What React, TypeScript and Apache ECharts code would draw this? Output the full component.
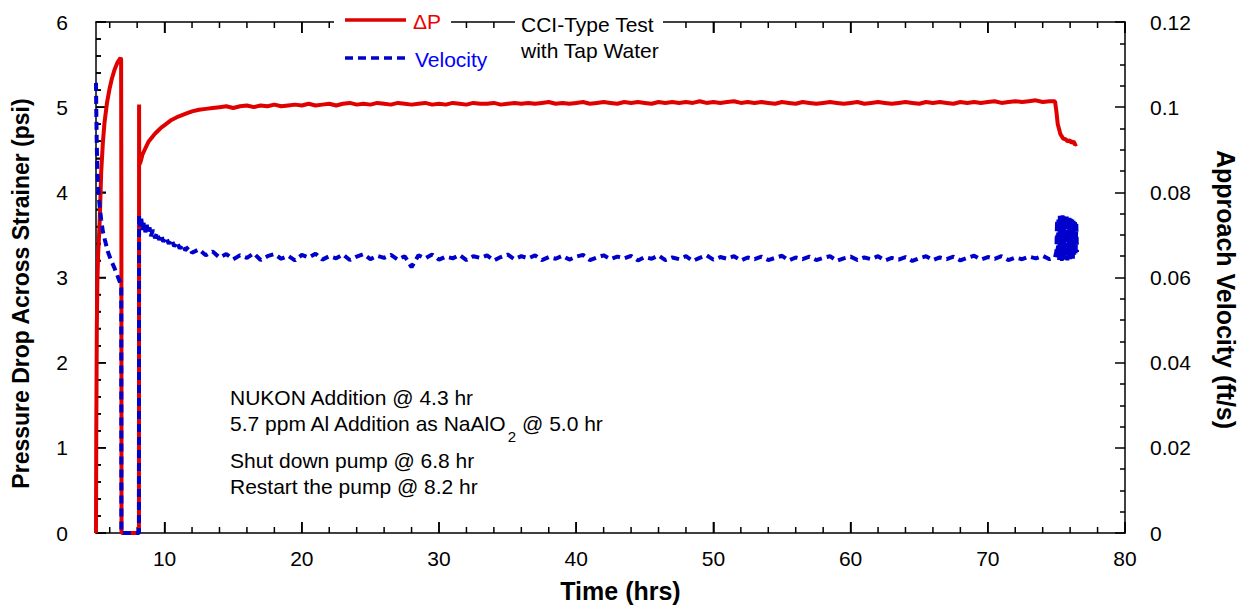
import React, { useEffect, useRef } from 'react';
import * as echarts from 'echarts';

const FONT = '"Liberation Sans", Arial, sans-serif';
const RED = '#e00000';
const BLUE = '#0000cc';

// Pressure drop (psi) vs time (hrs)
const dpHours = [
  5.0, 5.02, 5.06, 5.1, 5.15, 5.26, 5.38, 5.5, 5.62, 5.8, 5.98, 6.15, 6.35, 6.55, 6.79, 6.83, 6.85, 6.86,
  7.5, 8.13, 8.14, 8.15, 8.25, 8.4, 8.55, 8.7, 8.85, 9.0, 9.25, 9.5, 9.75, 10.0, 10.5, 11.0, 11.5, 12.0,
  12.5, 13.0, 13.5, 14.0,
  14.5, 15, 15.5, 16, 16.5, 17, 17.5, 18, 18.5, 19, 19.5, 20, 20.5, 21, 21.5, 22, 22.5, 23, 23.5, 24,
  24.5, 25, 25.5, 26, 26.5, 27, 27.5, 28, 28.5, 29, 29.5, 30, 30.5, 31, 31.5, 32, 32.5, 33, 33.5, 34,
  34.5, 35, 35.5, 36, 36.5, 37, 37.5, 38, 38.5, 39, 39.5, 40, 40.5, 41, 41.5, 42, 42.5, 43, 43.5, 44,
  44.5, 45, 45.5, 46, 46.5, 47, 47.5, 48, 48.5, 49, 49.5, 50, 50.5, 51, 51.5, 52, 52.5, 53, 53.5, 54,
  54.5, 55, 55.5, 56, 56.5, 57, 57.5, 58, 58.5, 59, 59.5, 60, 60.5, 61, 61.5, 62, 62.5, 63, 63.5, 64,
  64.5, 65, 65.5, 66, 66.5, 67, 67.5, 68, 68.5, 69, 69.5, 70, 70.5, 71, 71.5, 72, 72.5, 73, 73.5, 74,
  74.5, 74.9, 75.0, 75.1, 75.3, 75.5, 75.7, 75.8, 76.0, 76.1, 76.25, 76.35, 76.5,
];
const dpPsi = [
  0, 1.2, 2.4, 2.95, 3.25, 3.62, 4.24, 4.58, 4.82, 5.05, 5.21, 5.33, 5.44, 5.52, 5.58, 5.56, 3.85, 0,
  0, 0, 5.03, 4.32, 4.36, 4.45, 4.5, 4.55, 4.6, 4.63, 4.68, 4.72, 4.76, 4.79, 4.85, 4.89, 4.92, 4.95,
  4.97, 4.98, 4.99, 5.0,
  5.01, 4.99, 5.01, 5.02, 5.0, 5.02, 5.01, 5.03, 5.01, 5.02, 5.03, 5.02, 5.04, 5.02, 5.03, 5.04, 5.02, 5.04, 5.05, 5.03,
  5.04, 5.03, 5.05, 5.04, 5.03, 5.05, 5.04, 5.03, 5.04, 5.05, 5.03, 5.04, 5.03, 5.05, 5.04, 5.03, 5.05, 5.04, 5.04, 5.05,
  5.03, 5.04, 5.05, 5.04, 5.05, 5.04, 5.05, 5.06, 5.04, 5.05, 5.04, 5.05, 5.06, 5.04, 5.05, 5.06, 5.05, 5.04, 5.06, 5.05,
  5.06, 5.05, 5.04, 5.06, 5.05, 5.06, 5.05, 5.06, 5.05, 5.07, 5.05, 5.06, 5.05, 5.06, 5.07, 5.05, 5.06, 5.05, 5.06, 5.05,
  5.04, 5.06, 5.05, 5.04, 5.06, 5.05, 5.04, 5.05, 5.06, 5.05, 5.04, 5.05, 5.06, 5.04, 5.05, 5.06, 5.05, 5.04, 5.05, 5.06,
  5.05, 5.04, 5.06, 5.05, 5.06, 5.05, 5.04, 5.06, 5.05, 5.06, 5.05, 5.06, 5.07, 5.05, 5.06, 5.07, 5.06, 5.07, 5.08, 5.06,
  5.07, 5.07, 4.95, 4.8, 4.68, 4.63, 4.62, 4.6, 4.61, 4.58, 4.6, 4.56, 4.57,
];

// Approach velocity (ft/s) vs time (hrs)
const velHours = [
  5.0, 5.02, 5.05, 5.1, 5.18, 5.26, 5.38, 5.5, 5.65, 5.86, 6.1, 6.35, 6.55, 6.71, 6.8, 6.84, 6.85,
  8.13, 8.14, 8.2, 8.3, 8.4, 8.5, 8.6, 8.7, 8.8, 8.9, 9.0, 9.15, 9.3, 9.45, 9.6, 9.75, 9.9, 10.1, 10.3,
  10.5, 10.7, 10.9, 11.1, 11.3, 11.5, 11.75, 12.0, 12.5, 13.0, 13.5, 14.0,
  14.5, 15, 15.5, 16, 16.5, 17, 17.5, 18, 18.5, 19, 19.5, 20, 20.5, 21, 21.5, 22, 22.5, 23, 23.5, 24,
  24.5, 25, 25.5, 26, 26.5, 27, 27.5, 28, 28.5, 29, 29.5, 30, 30.5, 31, 31.5, 32, 32.5, 33, 33.5, 34,
  34.5, 35, 35.5, 36, 36.5, 37, 37.5, 38, 38.5, 39, 39.5, 40, 40.5, 41, 41.5, 42, 42.5, 43, 43.5, 44,
  44.5, 45, 45.5, 46, 46.5, 47, 47.5, 48, 48.5, 49, 49.5, 50, 50.5, 51, 51.5, 52, 52.5, 53, 53.5, 54,
  54.5, 55, 55.5, 56, 56.5, 57, 57.5, 58, 58.5, 59, 59.5, 60, 60.5, 61, 61.5, 62, 62.5, 63, 63.5, 64,
  64.5, 65, 65.5, 66, 66.5, 67, 67.5, 68, 68.5, 69, 69.5, 70, 70.5, 71, 71.5, 72, 72.5, 73, 73.5, 74,
  74.5, 74.9, 75.0, 75.05, 75.1, 75.15, 75.2, 75.25, 75.3, 75.35, 75.4, 75.45, 75.5, 75.55, 75.6, 75.65,
  75.7, 75.75, 75.8, 75.85, 75.9, 75.95, 76.0, 76.05, 76.1, 76.15, 76.2, 76.25, 76.3, 76.35, 76.4, 76.45, 76.5,
];
const velFtS = [
  0.1057, 0.0995, 0.0925, 0.0848, 0.08, 0.077, 0.0735, 0.0708, 0.0688, 0.0661, 0.064, 0.0622, 0.0605, 0.0592, 0.0583, 0.0575, 0,
  0, 0.0747, 0.072, 0.0738, 0.0712, 0.0731, 0.0706, 0.0724, 0.0702, 0.0718, 0.0697, 0.0712, 0.0692, 0.0706, 0.0688, 0.0701, 0.0684, 0.0695, 0.0679,
  0.069, 0.0673, 0.0684, 0.0668, 0.0678, 0.0664, 0.0672, 0.0658, 0.0666, 0.0652, 0.0661, 0.0647,
  0.0655, 0.0643, 0.0652, 0.0646, 0.0657, 0.0641, 0.065, 0.0655, 0.0644, 0.0651, 0.064, 0.0653, 0.0647, 0.0656, 0.0642, 0.065, 0.0645, 0.0654, 0.0641, 0.0649,
  0.0655, 0.0643, 0.0651, 0.0646, 0.0653, 0.0642, 0.065, 0.0624, 0.0652, 0.0645, 0.0654, 0.0642, 0.0649, 0.0645, 0.0653, 0.0641, 0.065, 0.0646, 0.0652, 0.064,
  0.0648, 0.0654, 0.0643, 0.065, 0.0645, 0.0652, 0.0641, 0.0648, 0.0644, 0.0651, 0.0642, 0.0649, 0.0653, 0.0641, 0.0647, 0.0652, 0.0643, 0.0649, 0.0645, 0.0651,
  0.064, 0.0648, 0.0644, 0.0652, 0.0641, 0.0647, 0.0643, 0.065, 0.0639, 0.0646, 0.0652, 0.0642, 0.0648, 0.0644, 0.065, 0.064, 0.0647, 0.0643, 0.0649, 0.0641,
  0.0646, 0.0651, 0.064, 0.0647, 0.0643, 0.0649, 0.0641, 0.0646, 0.065, 0.0639, 0.0645, 0.0649, 0.0641, 0.0647, 0.0643, 0.065, 0.064, 0.0646, 0.0642, 0.0648,
  0.0639, 0.0645, 0.065, 0.0641, 0.0647, 0.0643, 0.0649, 0.064, 0.0646, 0.0651, 0.0642, 0.0648, 0.0644, 0.065, 0.0641, 0.0647, 0.0643, 0.0649, 0.0645, 0.0651,
  0.0643, 0.0647, 0.0662, 0.0735, 0.0648, 0.0742, 0.0641, 0.0745, 0.065, 0.0743, 0.0639, 0.0746, 0.0645, 0.0744, 0.0642, 0.0741,
  0.0648, 0.0745, 0.064, 0.0743, 0.0646, 0.074, 0.0643, 0.0738, 0.0649, 0.0736, 0.0644, 0.0733, 0.0652, 0.073, 0.0655, 0.0726, 0.066,
];

// Axis ranges and tick values
const timeRange = [5, 80];
const psiRange = [0, 6];
const velRange = [0, 0.12];
const xMajorTicks = [10, 20, 30, 40, 50, 60, 70, 80];
const xMinorTicks = [
  6, 8, 12, 14, 16, 18, 22, 24, 26, 28, 32, 34, 36, 38, 42, 44, 46, 48,
  52, 54, 56, 58, 62, 64, 66, 68, 72, 74, 76, 78,
];
const psiMajorTicks = [0, 1, 2, 3, 4, 5, 6];
const psiMinorTicks = [
  0.2, 0.4, 0.6, 0.8, 1.2, 1.4, 1.6, 1.8, 2.2, 2.4, 2.6, 2.8, 3.2, 3.4, 3.6, 3.8,
  4.2, 4.4, 4.6, 4.8, 5.2, 5.4, 5.6, 5.8,
];

const legendNames = ['ΔP', 'Velocity'];
const titleLines = ['CCI-Type Test', 'with Tap Water'];
const noteLine1 = 'NUKON Addition @ 4.3 hr';
const noteLine2 = '5.7 ppm Al Addition as NaAlO{sub|2} @ 5.0 hr';
const noteLine3 = 'Shut down pump @ 6.8 hr';
const noteLine4 = 'Restart the pump @ 8.2 hr';

const CHART_W = 1247;
const CHART_H = 608;
const GRID = { left: 96, right: 122, top: 22, bottom: 71 };
const MAJOR_LEN = 11;
const MINOR_LEN = 6;

function blackLine() {
  return { color: '#000000', width: 1.5 };
}
function tick(len: number, custom?: number[]) {
  const t: any = { show: true, inside: true, length: len, lineStyle: blackLine() };
  if (custom) t.customValues = custom;
  return t;
}

// Tick marks as short segments in data units (pixel lengths converted through the grid size)
function buildTickSegments() {
  const gridW = CHART_W - GRID.left - GRID.right;
  const gridH = CHART_H - GRID.top - GRID.bottom;
  const psiPerPx = (psiRange[1] - psiRange[0]) / gridH;
  const hrsPerPx = (timeRange[1] - timeRange[0]) / gridW;
  const out: any[] = [];
  const brk = ['-', '-'];
  const xSeg = (v: number, len: number) => {
    out.push([v, psiRange[0]], [v, psiRange[0] + len * psiPerPx], brk);
    out.push([v, psiRange[1]], [v, psiRange[1] - len * psiPerPx], brk);
  };
  const ySeg = (v: number, len: number) => {
    out.push([timeRange[0], v], [timeRange[0] + len * hrsPerPx, v], brk);
  };
  xMajorTicks.forEach((v) => xSeg(v, MAJOR_LEN));
  xMinorTicks.forEach((v) => xSeg(v, MINOR_LEN));
  psiMajorTicks.forEach((v) => ySeg(v, MAJOR_LEN - 1));
  psiMinorTicks.forEach((v) => ySeg(v, MINOR_LEN - 1));
  return out;
}

export default function App() {
  const ref = useRef<HTMLDivElement>(null);
  useEffect(() => {
    if (!ref.current) return;
    const chart = echarts.init(ref.current, undefined, { renderer: 'svg' });
    const axisLine = () => ({ show: true, onZero: false, lineStyle: blackLine() });
    const textFont = `21px ${FONT}`;
    const xBase = () => ({ type: 'value', min: timeRange[0], max: timeRange[1], splitLine: { show: false } });

    chart.setOption({
      animation: false,
      grid: { ...GRID },
      xAxis: [
        {
          ...xBase(),
          position: 'bottom',
          axisLine: axisLine(),
          axisTick: tick(MAJOR_LEN, xMajorTicks),
          axisLabel: { customValues: xMajorTicks, fontSize: 21, color: '#000', fontFamily: FONT, margin: 15 },
          name: 'Time (hrs)',
          nameLocation: 'middle',
          nameGap: 45,
          nameTextStyle: { fontSize: 25, fontWeight: 'bold', color: '#000', fontFamily: FONT, padding: [0, 0, 0, 20] },
        },
        {
          ...xBase(),
          position: 'top',
          axisLine: axisLine(),
          axisTick: tick(MAJOR_LEN, xMajorTicks),
          axisLabel: { show: false },
        },
      ],
      yAxis: [
        {
          type: 'value',
          position: 'left',
          min: psiRange[0],
          max: psiRange[1],
          interval: 1,
          axisLine: axisLine(),
          axisTick: tick(MAJOR_LEN - 1),
          minorTick: { show: true, splitNumber: 5, length: MINOR_LEN - 1, lineStyle: blackLine() },
          axisLabel: { fontSize: 21, color: '#000', fontFamily: FONT, margin: 28 },
          splitLine: { show: false },
          minorSplitLine: { show: false },
          name: 'Pressure Drop Across Strainer (psi)',
          nameLocation: 'middle',
          nameGap: 64,
          nameRotate: 90,
          nameTextStyle: { fontSize: 23, fontWeight: 'bold', color: '#000', fontFamily: FONT, padding: [0, 32, 0, 0] },
        },
        {
          type: 'value',
          position: 'right',
          min: velRange[0],
          max: velRange[1],
          interval: 0.02,
          axisLine: axisLine(),
          axisTick: tick(MAJOR_LEN - 1),
          minorTick: { show: true, splitNumber: 4, length: MINOR_LEN - 1, lineStyle: blackLine() },
          axisLabel: { fontSize: 21, color: '#000', fontFamily: FONT, margin: 25 },
          splitLine: { show: false },
          minorSplitLine: { show: false },
          name: 'Approach Velocity (ft/s)',
          nameLocation: 'middle',
          nameGap: 88,
          nameRotate: -90,
          nameTextStyle: { fontSize: 25, fontWeight: 'bold', color: '#000', fontFamily: FONT, padding: [0, 0, 0, 24] },
        },
      ],
      series: [
        {
          name: 'axis ticks',
          type: 'line',
          xAxisIndex: 0,
          yAxisIndex: 0,
          data: buildTickSegments(),
          symbol: 'none',
          showSymbol: false,
          connectNulls: false,
          clip: false,
          silent: true,
          lineStyle: { color: '#000000', width: 1.5 },
          itemStyle: { color: '#000000' },
        },
        {
          name: legendNames[0],
          type: 'line',
          xAxisIndex: 0,
          yAxisIndex: 0,
          data: dpHours.map((t, i) => [t, dpPsi[i]]),
          symbol: 'none',
          lineStyle: { color: RED, width: 4 },
          itemStyle: { color: RED },
        },
        {
          name: legendNames[1],
          type: 'line',
          xAxisIndex: 0,
          yAxisIndex: 1,
          data: velHours.map((t, i) => [t, velFtS[i]]),
          symbol: 'none',
          lineStyle: { color: BLUE, width: 4, type: [8, 5] },
          itemStyle: { color: BLUE },
        },
      ],
      graphic: [
        { type: 'rect', z: 8, shape: { x: 334, y: 12, width: 117, height: 24 }, style: { fill: '#fff' } },
        { type: 'rect', z: 8, shape: { x: 515, y: 12, width: 148, height: 24 }, style: { fill: '#fff' } },
        { type: 'line', z: 9, shape: { x1: 345, y1: 20, x2: 406, y2: 20 }, style: { stroke: RED, lineWidth: 3.5 } },
        { type: 'text', z: 9, x: 413, y: 21, style: { text: legendNames[0], font: textFont, fill: '#ee0000', verticalAlign: 'middle' } },
        { type: 'line', z: 9, shape: { x1: 345, y1: 58, x2: 408, y2: 58 }, style: { stroke: BLUE, lineWidth: 3.5, lineDash: [8, 5] } },
        { type: 'text', z: 9, x: 415, y: 59, style: { text: legendNames[1], font: textFont, fill: '#0000ff', verticalAlign: 'middle' } },
        { type: 'text', z: 9, x: 521, y: 24, style: { text: titleLines[0], font: textFont, fill: '#000', verticalAlign: 'middle' } },
        { type: 'text', z: 9, x: 521, y: 50, style: { text: titleLines[1], font: textFont, fill: '#000', verticalAlign: 'middle' } },
        { type: 'text', z: 9, x: 230, y: 397, style: { text: noteLine1, font: textFont, fill: '#000', verticalAlign: 'middle' } },
        {
          type: 'text', z: 9, x: 230, y: 423,
          style: {
            text: noteLine2, font: textFont, fill: '#000', verticalAlign: 'middle',
            rich: { sub: { fontSize: 15, fontFamily: FONT, padding: [26, 0, 0, 0] } },
          },
        },
        { type: 'text', z: 9, x: 230, y: 460, style: { text: noteLine3, font: textFont, fill: '#000', verticalAlign: 'middle' } },
        { type: 'text', z: 9, x: 230, y: 486, style: { text: noteLine4, font: textFont, fill: '#000', verticalAlign: 'middle' } },
      ],
    });
    return () => chart.dispose();
  }, []);
  return <div ref={ref} style={{ position: 'absolute', left: 0, top: 0, width: CHART_W, height: CHART_H, background: '#fff' }} />;
}
